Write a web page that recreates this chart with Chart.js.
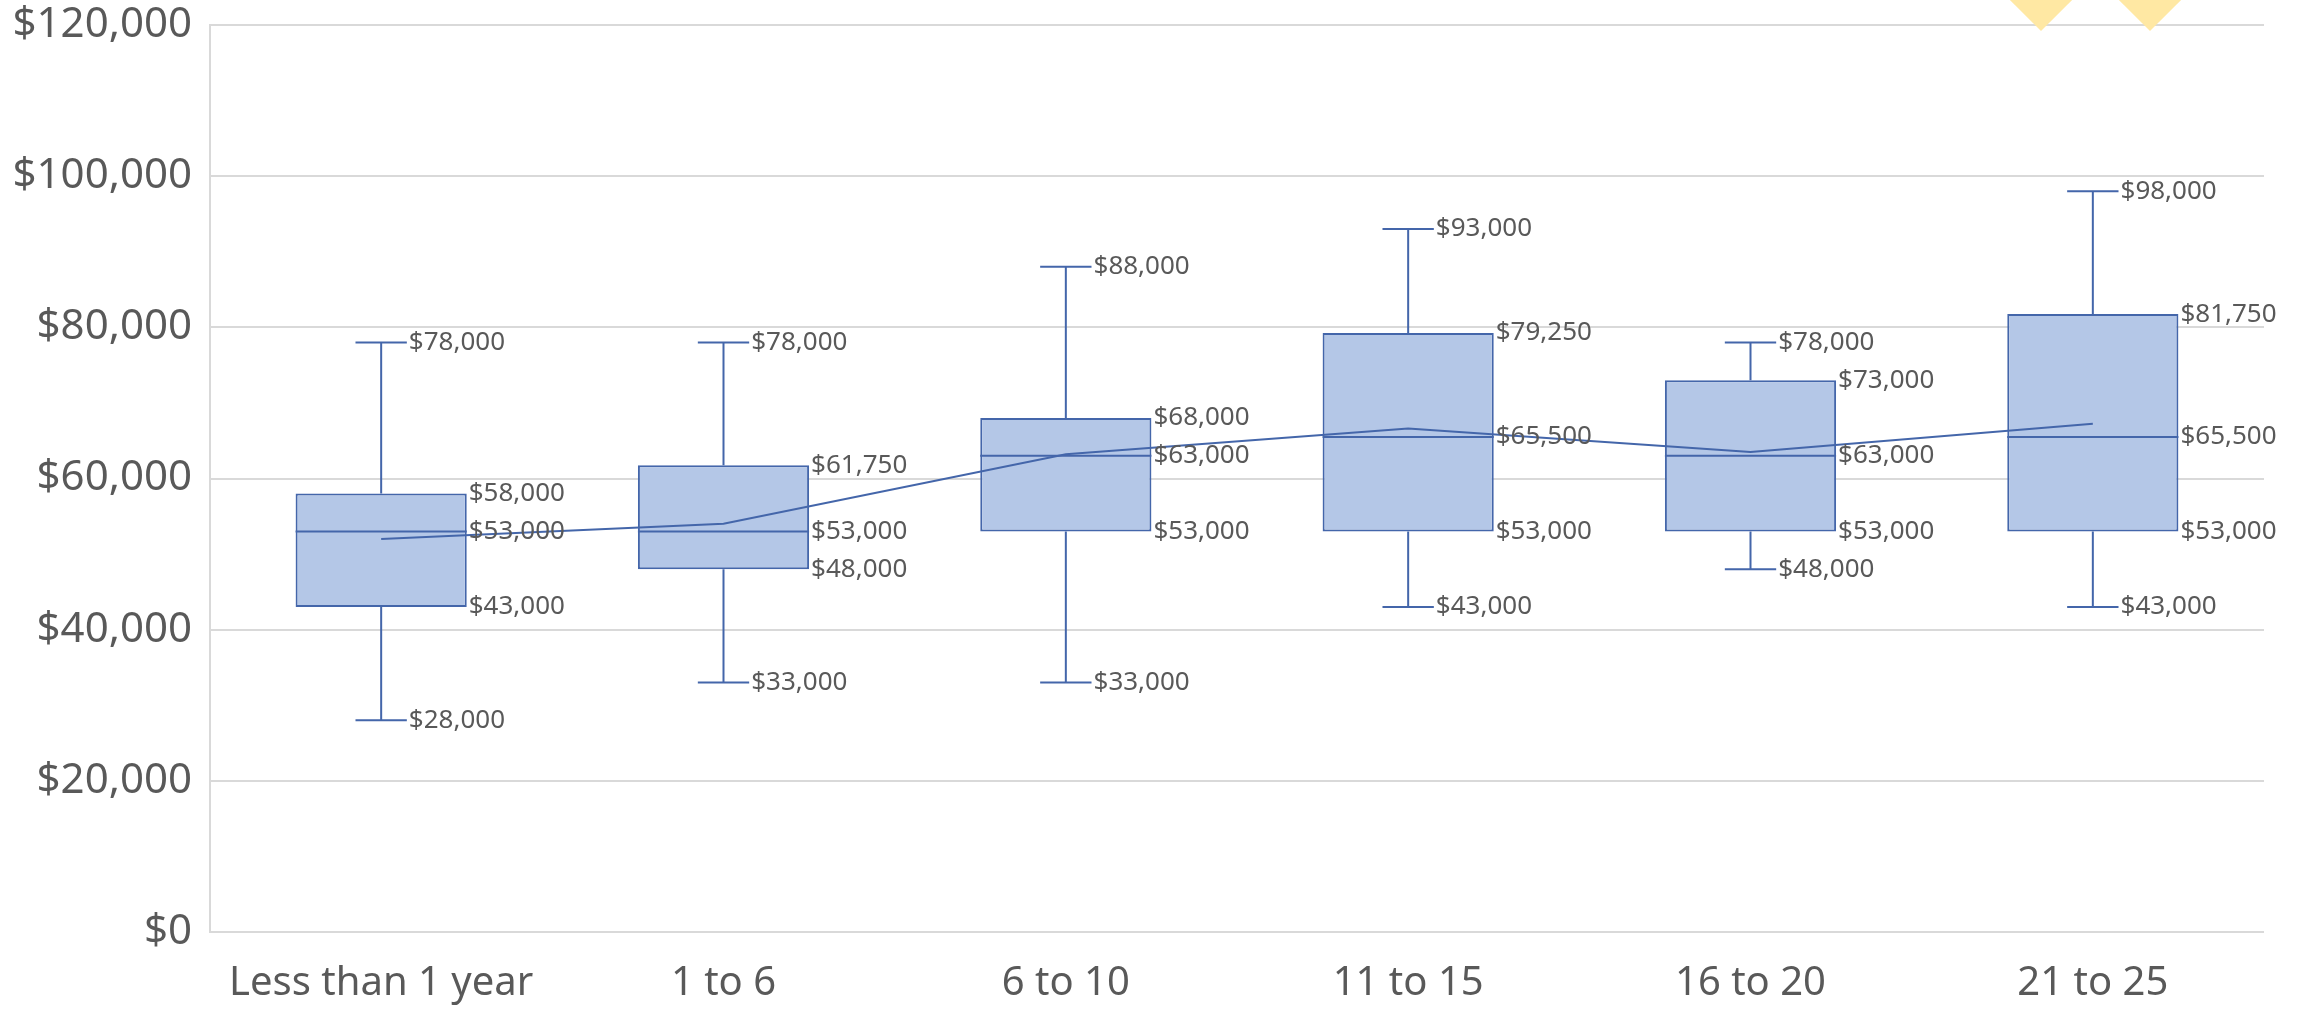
<!DOCTYPE html>
<html>
<head>
<meta charset="utf-8">
<script src="https://cdn.jsdelivr.net/npm/chart.js@4.4.1/dist/chart.umd.min.js"></script>
<style>
    html, body { margin: 0; padding: 0; background: #fff; overflow: hidden; }
    #wrap { position: relative; width: 2305px; height: 1009px; }
    .diamond { position: absolute; width: 44px; height: 44px; background: #FFE8A3; transform: rotate(45deg); top: -22px; }
</style>
</head>
<body>
<div id="wrap">
    <canvas id="salary-box" width="2305" height="1009"></canvas>
    <div class="diamond" style="left: 2019px"></div>
    <div class="diamond" style="left: 2128px"></div>
</div>
<script>
// years of experience vs salary
const categories = ["Less than 1 year", "1 to 6", "6 to 10", "11 to 15", "16 to 20", "21 to 25"];
const minimum = [28000, 33000, 33000, 43000, 48000, 43000];
const q1 = [43000, 48000, 53000, 53000, 53000, 53000];
const median = [53000, 53000, 63000, 65500, 63000, 65500];
const q3 = [58000, 61750, 68000, 79250, 73000, 81750];
const maximum = [78000, 78000, 88000, 93000, 78000, 98000];
const mean = [52000, 54000, 63200, 66600, 63500, 67250];
const yTicks = [0, 20000, 40000, 60000, 80000, 100000, 120000];

const LINE = "#4466AA";
const FILL = "#B4C7E7";
const TEXT = "#595959";
const FONT = "'Noto Sans', sans-serif";

function money(v) {
    return "$" + v.toLocaleString("en-US");
}

// whiskers, caps, medians and value labels, placed through the chart's scales
const boxExtras = {
    id: "boxExtras",
    afterDatasetsDraw: function(chart) {
        const ctx = chart.ctx;
        const x = chart.scales.x, y = chart.scales.y;
        const bars = chart.getDatasetMeta(0).data;

        ctx.save();
        ctx.strokeStyle = LINE;
        ctx.lineWidth = 2;
        for (let i = 0; i < categories.length; i++) {
            const cx = x.getPixelForValue(i);
            const half = bars[i].width / 2;
            const cap = bars[i].width * 0.15;
            const yMin = y.getPixelForValue(minimum[i]);
            const yMax = y.getPixelForValue(maximum[i]);
            const yQ1 = y.getPixelForValue(q1[i]);
            const yQ3 = y.getPixelForValue(q3[i]);
            const yMed = y.getPixelForValue(median[i]);

            ctx.beginPath();
            ctx.moveTo(cx, yQ3); ctx.lineTo(cx, yMax);
            ctx.moveTo(cx - cap, yMax); ctx.lineTo(cx + cap, yMax);
            ctx.moveTo(cx, yQ1); ctx.lineTo(cx, yMin);
            ctx.moveTo(cx - cap, yMin); ctx.lineTo(cx + cap, yMin);
            ctx.moveTo(cx - half, yMed); ctx.lineTo(cx + half, yMed);
            ctx.stroke();

            ctx.fillStyle = TEXT;
            ctx.font = "26px " + FONT;
            ctx.textAlign = "left";
            ctx.textBaseline = "middle";
            ctx.fillText(money(maximum[i]), cx + cap + 2, yMax);
            ctx.fillText(money(minimum[i]), cx + cap + 2, yMin);
            ctx.fillText(money(q3[i]), cx + half + 2, yQ3);
            ctx.fillText(money(q1[i]), cx + half + 2, yQ1);
            ctx.fillText(money(median[i]), cx + half + 2, yMed);
        }
        ctx.restore();
    }
};

new Chart(document.getElementById("salary-box").getContext("2d"), {
    data: {
        labels: categories,
        datasets: [
            {
                type: "bar",
                label: "Box",
                data: q1.map((v, i) => [v, q3[i]]),
                backgroundColor: FILL,
                borderColor: LINE,
                borderWidth: 2,
                borderSkipped: false,
                barPercentage: 0.5,
                categoryPercentage: 1,
                order: 2
            },
            {
                type: "line",
                label: "Mean",
                data: mean,
                borderColor: LINE,
                borderWidth: 2,
                pointRadius: 0,
                tension: 0,
                fill: false,
                order: 1
            }
        ]
    },
    plugins: [boxExtras],
    options: {
        responsive: false,
        animation: false,
        devicePixelRatio: 1,
        layout: {padding: {top: 25, right: 41, left: 0, bottom: 0}},
        plugins: {legend: {display: false}, tooltip: {enabled: false}},
        scales: {
            x: {
                grid: {display: false},
                border: {display: false},
                ticks: {color: TEXT, font: {family: "Noto Sans", size: 40}, padding: 20, maxRotation: 0},
                afterFit: (s) => { s.height = 77; }
            },
            y: {
                min: 0,
                max: 120000,
                afterBuildTicks: (s) => { s.ticks = yTicks.map(v => ({value: v})); },
                grid: {color: "#D9D9D9", lineWidth: 2, drawTicks: false},
                border: {display: true, color: "#D9D9D9", width: 2},
                ticks: {color: TEXT, font: {family: "Noto Sans", size: 42}, padding: 18, callback: (v) => money(v)},
                afterFit: (s) => { s.width = 210; s.paddingTop = 0; s.paddingBottom = 0; }
            }
        }
    }
});
</script>
</body>
</html>
